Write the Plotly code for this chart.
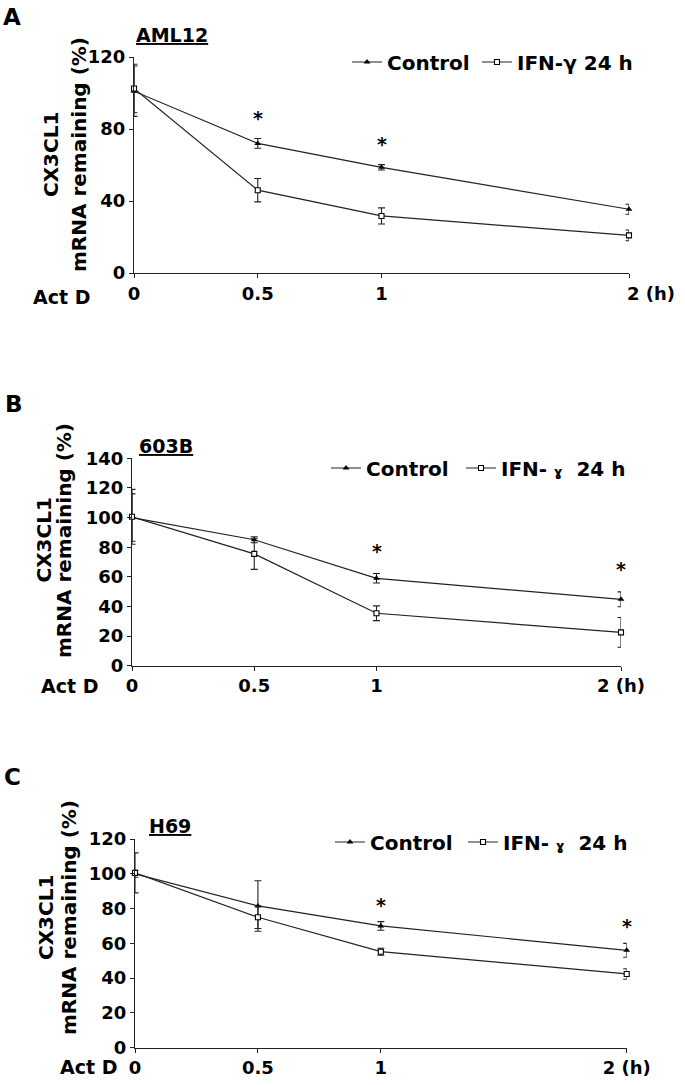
import plotly.graph_objects as go

# ---------------- data ----------------
times = [0, 0.5, 1, 2]

aml12_control = [101, 72, 58.7, 35.4]
aml12_control_err = [14, 2.7, 1.5, 2.8]
aml12_ifn = [102.5, 46, 31.7, 20.9]
aml12_ifn_err = [13.5, 6.5, 4.5, 3]
aml12_sig = [0.5, 1]

b603_control = [100, 85, 59, 44.8]
b603_control_err = [16, 2, 3.2, 5]
b603_ifn = [100.5, 75.5, 35.4, 22.5]
b603_ifn_err = [18.5, 10.5, 5, 10]
b603_sig = [1, 2]

h69_control = [100, 81.5, 70, 56]
h69_control_err = [2, 14.5, 2.5, 4]
h69_ifn = [100.5, 75, 55.2, 42.4]
h69_ifn_err = [11.5, 6.5, 2, 3]
h69_sig = [1, 2]

x_tick_labels = ["0", "0.5", "1", "2 (h)"]

W, H = 685, 1085
FONT = "DejaVu Sans"


def px(x):
    return x / W


def py(y):
    return 1 - y / H


def bold(s):
    return dict(family=FONT, size=s, color="black", weight="bold")


panels = [
    dict(letter="A", title="AML12", ifn_name="IFN-γ 24 h",
         ctrl=aml12_control, ctrl_err=aml12_control_err,
         ifn=aml12_ifn, ifn_err=aml12_ifn_err, sig=aml12_sig,
         x0=134, x1=629, ytop=57, ybot=273, ymax=120, dtick=40,
         letter_pos=(12.5, 17.5), title_pos=(171.5, 35),
         ytitle1=(51, 155), ytitle2=(79, 155), actd=(61, 297),
         legend_pos=(347, 62), entry_w=85, star_shift=8,
         h_label_left=True),
    dict(letter="B", title="603B",
         ifn_name="IFN- <span style='font-size:13px'>ɣ</span>  24 h",
         ctrl=b603_control, ctrl_err=b603_control_err,
         ifn=b603_ifn, ifn_err=b603_ifn_err, sig=b603_sig,
         x0=132, x1=621, ytop=458.3, ybot=665.7, ymax=140, dtick=20,
         letter_pos=(13.5, 403.5), title_pos=(166, 446),
         ytitle1=(43.5, 540), ytitle2=(64, 540), actd=(69, 686),
         legend_pos=(326, 468), entry_w=90, star_shift=10,
         h_label_left=False),
    dict(letter="C", title="H69",
         ifn_name="IFN- <span style='font-size:13px'>ɣ</span>  24 h",
         ctrl=h69_control, ctrl_err=h69_control_err,
         ifn=h69_ifn, ifn_err=h69_ifn_err, sig=h69_sig,
         x0=135, x1=626.7, ytop=839, ybot=1047.7, ymax=120, dtick=20,
         letter_pos=(12.5, 776.5), title_pos=(170, 826),
         ytitle1=(46, 918), ytitle2=(69, 918), actd=(88, 1067),
         legend_pos=(330, 842), entry_w=88, star_shift=4,
         h_label_left=False),
]

fig = go.Figure()
annotations = []
layout_axes = {}


def paper_text(pos, text, size, angle=0):
    return dict(x=px(pos[0]), y=py(pos[1]), xref="paper", yref="paper",
                text=text, showarrow=False, xanchor="center",
                yanchor="middle", textangle=angle, font=bold(size))


for i, p in enumerate(panels):
    n = "" if i == 0 else str(i + 1)
    xa, ya = "x" + n, "y" + n
    leg = "legend" if i == 0 else "legend" + str(i + 1)

    fig.add_trace(go.Scatter(
        x=times, y=p["ctrl"], xaxis=xa, yaxis=ya, name="Control",
        mode="lines+markers", legend=leg, cliponaxis=False,
        legendwidth=p["entry_w"],
        line=dict(color="#222", width=1.2),
        marker=dict(symbol="triangle-up", size=6, color="black"),
        error_y=dict(type="data", array=p["ctrl_err"], visible=True,
                     color="#222", thickness=1.1, width=3.5),
    ))
    fig.add_trace(go.Scatter(
        x=times, y=p["ifn"], xaxis=xa, yaxis=ya, name=p["ifn_name"],
        mode="lines+markers", legend=leg, cliponaxis=False,
        legendwidth=140,
        line=dict(color="#222", width=1.2),
        marker=dict(symbol="square", size=5, color="white",
                    line=dict(color="black", width=1.1)),
        error_y=dict(type="data", array=p["ifn_err"], visible=True,
                     color="#222", thickness=1.1, width=3.5),
    ))

    ticktext = list(x_tick_labels)
    if p["h_label_left"]:
        ticktext[-1] = ""
        annotations.append(dict(
            x=times[-1], y=0, xref=xa, yref=ya, text="2 (h)",
            showarrow=False, xanchor="left", yanchor="top", xshift=-4,
            yshift=-8, font=bold(18)))

    layout_axes["xaxis" + n] = dict(
        domain=[px(p["x0"]), px(p["x1"])], anchor=ya, range=[0, 2],
        tickvals=times, ticktext=ticktext, showgrid=False, zeroline=False,
        showline=True, linecolor="#222", linewidth=1.3, ticks="outside",
        ticklen=4, tickwidth=1.2, tickcolor="#222", automargin=False,
        tickfont=bold(18),
    )
    layout_axes["yaxis" + n] = dict(
        domain=[py(p["ybot"]), py(p["ytop"])], anchor=xa,
        range=[0, p["ymax"]], dtick=p["dtick"], showgrid=False,
        zeroline=False, showline=True, linecolor="#222", linewidth=1.3,
        ticks="outside", ticklen=4, tickwidth=1.2, tickcolor="#222",
        automargin=False, tickfont=bold(18),
    )

    annotations.append(paper_text(p["letter_pos"], p["letter"], 23))
    annotations.append(paper_text(p["title_pos"], "<u>" + p["title"] + "</u>", 19))
    annotations.append(paper_text(p["ytitle1"], "CX3CL1", 20, -90))
    annotations.append(paper_text(p["ytitle2"], "mRNA remaining (%)", 20, -90))
    annotations.append(paper_text(p["actd"], "Act D", 19))

    for t in p["sig"]:
        k = times.index(t)
        annotations.append(dict(
            x=t, y=p["ctrl"][k] + p["ctrl_err"][k], xref=xa, yref=ya,
            text="*", showarrow=False, xanchor="center", yanchor="bottom",
            yshift=p["star_shift"], font=bold(19)))

    layout_axes[leg] = dict(
        x=px(p["legend_pos"][0]), y=py(p["legend_pos"][1]),
        xanchor="left", yanchor="middle", orientation="h",
        bgcolor="rgba(0,0,0,0)", borderwidth=0, tracegroupgap=0,
        font=bold(20), itemwidth=30,
    )

fig.update_layout(
    template="none",
    width=W, height=H, margin=dict(l=0, r=0, t=0, b=0, autoexpand=False),
    paper_bgcolor="white", plot_bgcolor="white",
    showlegend=True, annotations=annotations,
    **layout_axes,
)

fig.write_html(
    "out.html",
    config={"displayModeBar": False},
    post_script="document.body.style.margin='0px';"
                "document.body.style.overflow='hidden';",
)
